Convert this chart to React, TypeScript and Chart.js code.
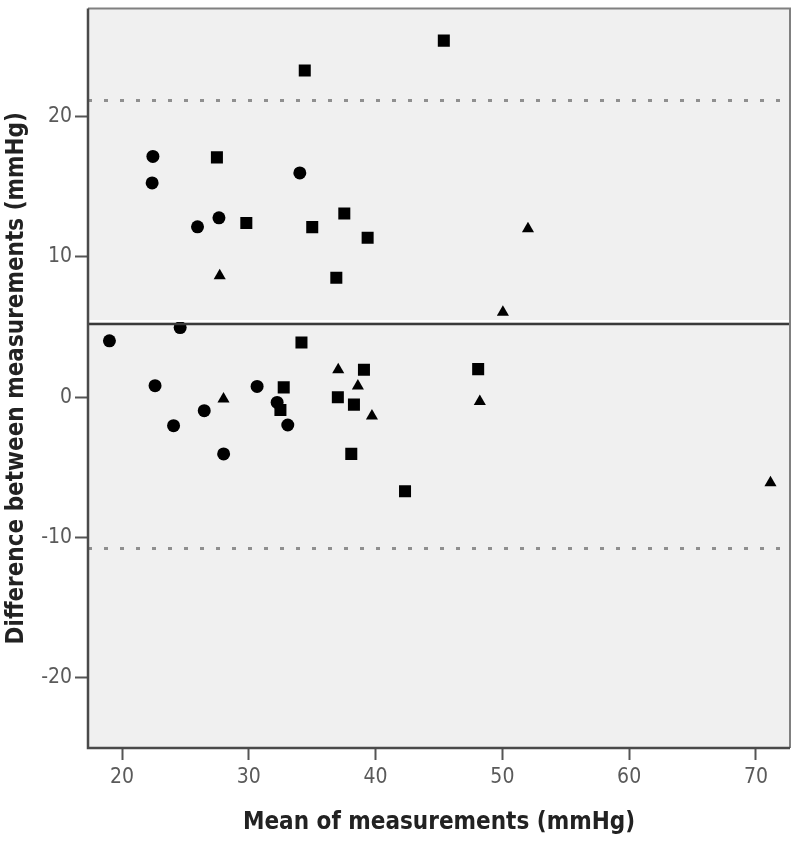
import React, { useEffect, useRef } from "react";
import { Chart, registerables } from "chart.js";

Chart.register(...registerables);

// ---- Data ----
const circleX = [22.43, 22.37, 25.95, 27.64, 34.02, 19.0, 24.58, 22.6, 30.65, 26.48, 32.23, 24.06, 33.07, 28.01];
const circleY = [17.16, 15.27, 12.14, 12.78, 15.98, 4.02, 4.96, 0.82, 0.77, -0.96, -0.37, -2.03, -1.98, -4.04];

const squareX = [45.38, 34.41, 27.48, 29.8, 35.0, 37.53, 39.37, 36.9, 34.15, 32.75, 32.49, 39.08, 37.02, 38.29, 38.08, 42.32, 48.09];
const squareY = [25.41, 23.28, 17.09, 12.42, 12.12, 13.09, 11.36, 8.51, 3.9, 0.7, -0.91, 1.95, 0.0, -0.53, -4.04, -6.7, 2.0];

const triangleX = [27.7, 52.02, 50.04, 48.22, 71.15, 28.0, 37.05, 38.6, 39.71];
const triangleY = [8.65, 12.0, 6.05, -0.3, -6.1, -0.12, 1.95, 0.79, -1.34];

const xTickValues = [20, 30, 40, 50, 60, 70];
const yTickValues = [-20, -10, 0, 10, 20];
const xRange = [17.31, 72.69];
const yRange = [-25.0, 27.7];

const meanDifference = 5.2;
const upperLimit = 21.2;
const lowerLimit = -10.75;

const xAxisTitle = "Mean of measurements (mmHg)";
const yAxisTitle = "Difference between measurements (mmHg)";

const toPoints = (xs: number[], ys: number[]) => xs.map((x, i) => ({ x, y: ys[i] }));

const TICK_FONT = "'DejaVu Sans Condensed', 'DejaVu Sans', sans-serif";
const TITLE_FONT = "'DejaVu Sans Condensed', 'DejaVu Sans', sans-serif";

const framePlugin = {
  id: "blandAltmanFrame",
  beforeDraw(chart: any) {
    const { ctx, chartArea } = chart;
    ctx.save();
    ctx.fillStyle = "#f0f0f0";
    ctx.fillRect(chartArea.left, chartArea.top, chartArea.right - chartArea.left, chartArea.bottom - chartArea.top);
    ctx.restore();
  },
  afterDatasetsDraw(chart: any) {
    const { ctx, chartArea, scales } = chart;
    const y = scales.y;
    ctx.save();
    // limits of agreement (dotted)
    ctx.strokeStyle = "#8f8f8f";
    ctx.lineWidth = 3;
    ctx.setLineDash([4, 12]);
    for (const v of [upperLimit, lowerLimit]) {
      const py = Math.round(y.getPixelForValue(v)) + 0.5;
      ctx.beginPath();
      ctx.moveTo(chartArea.left, py);
      ctx.lineTo(chartArea.right, py);
      ctx.stroke();
    }
    ctx.setLineDash([]);
    // mean line
    const pm = Math.round(y.getPixelForValue(meanDifference));
    ctx.strokeStyle = "#ffffff";
    ctx.lineWidth = 2;
    ctx.beginPath();
    ctx.moveTo(chartArea.left, pm - 3);
    ctx.lineTo(chartArea.right, pm - 3);
    ctx.stroke();
    ctx.strokeStyle = "#3a3a3a";
    ctx.lineWidth = 2.5;
    ctx.beginPath();
    ctx.moveTo(chartArea.left, pm);
    ctx.lineTo(chartArea.right, pm);
    ctx.stroke();
    // frame
    ctx.strokeStyle = "#808080";
    ctx.lineWidth = 2;
    ctx.beginPath();
    ctx.moveTo(chartArea.left, chartArea.top);
    ctx.lineTo(chartArea.right, chartArea.top);
    ctx.lineTo(chartArea.right, chartArea.bottom);
    ctx.stroke();
    ctx.strokeStyle = "#4a4a4a";
    ctx.lineWidth = 2.5;
    ctx.beginPath();
    ctx.moveTo(chartArea.left, chartArea.top);
    ctx.lineTo(chartArea.left, chartArea.bottom);
    ctx.lineTo(chartArea.right, chartArea.bottom);
    ctx.stroke();
    ctx.restore();
  },
};

export default function App() {
  const canvasRef = useRef<HTMLCanvasElement | null>(null);

  useEffect(() => {
    const canvas = canvasRef.current;
    if (!canvas) return;
    const common = { pointBorderWidth: 0, showLine: false, pointBackgroundColor: "#000000", pointBorderColor: "#000000" };
    const chart = new Chart(canvas, {
      type: "scatter",
      data: {
        datasets: [
          { label: "circle", data: toPoints(circleX, circleY), pointStyle: "circle", pointRadius: 6.5, ...common },
          { label: "square", data: toPoints(squareX, squareY), pointStyle: "rect", pointRadius: 8.5, ...common },
          { label: "triangle", data: toPoints(triangleX, triangleY), pointStyle: "triangle", pointRadius: 7, ...common },
        ],
      },
      options: {
        responsive: false,
        animation: false,
        events: [],
        layout: { padding: { top: 7, right: 10, left: 0, bottom: 0 } },
        plugins: { legend: { display: false }, tooltip: { enabled: false } },
        scales: {
          x: {
            type: "linear",
            min: xRange[0],
            max: xRange[1],
            afterBuildTicks: (s: any) => {
              s.ticks = xTickValues.map((v) => ({ value: v }));
            },
            afterFit: (s: any) => {
              s.height = 98;
              s.paddingLeft = 0;
              s.paddingRight = 0;
            },
            grid: { drawOnChartArea: false, drawTicks: true, tickLength: 12, tickColor: "#555555", tickWidth: 2 },
            border: { display: false },
            ticks: {
              color: "#5a5a5a",
              font: { family: TICK_FONT, size: 21 },
              padding: 5,
              maxRotation: 0,
              autoSkip: false,
            },
            title: {
              display: true,
              text: xAxisTitle,
              color: "#222222",
              font: { family: TITLE_FONT, size: 24, weight: "bold" },
              padding: { top: 0, bottom: 9 },
            },
          },
          y: {
            type: "linear",
            min: yRange[0],
            max: yRange[1],
            afterBuildTicks: (s: any) => {
              s.ticks = yTickValues.map((v) => ({ value: v }));
            },
            afterFit: (s: any) => {
              s.width = 88;
              s.paddingTop = 0;
              s.paddingBottom = 0;
            },
            grid: { drawOnChartArea: false, drawTicks: true, tickLength: 13, tickColor: "#555555", tickWidth: 2 },
            border: { display: false },
            ticks: {
              color: "#5a5a5a",
              font: { family: TICK_FONT, size: 21 },
              padding: 3,
              autoSkip: false,
            },
            title: {
              display: true,
              text: yAxisTitle,
              color: "#222222",
              font: { family: TITLE_FONT, size: 24, weight: "bold" },
              padding: { top: 2, bottom: 0 },
            },
          },
        },
      },
      plugins: [framePlugin],
    } as any);
    return () => chart.destroy();
  }, []);

  return (
    <div style={{ position: "absolute", left: 0, top: 0, width: 800, height: 846, background: "#ffffff" }}>
      <canvas ref={canvasRef} width={800} height={846} style={{ display: "block", width: 800, height: 846 }} />
    </div>
  );
}
